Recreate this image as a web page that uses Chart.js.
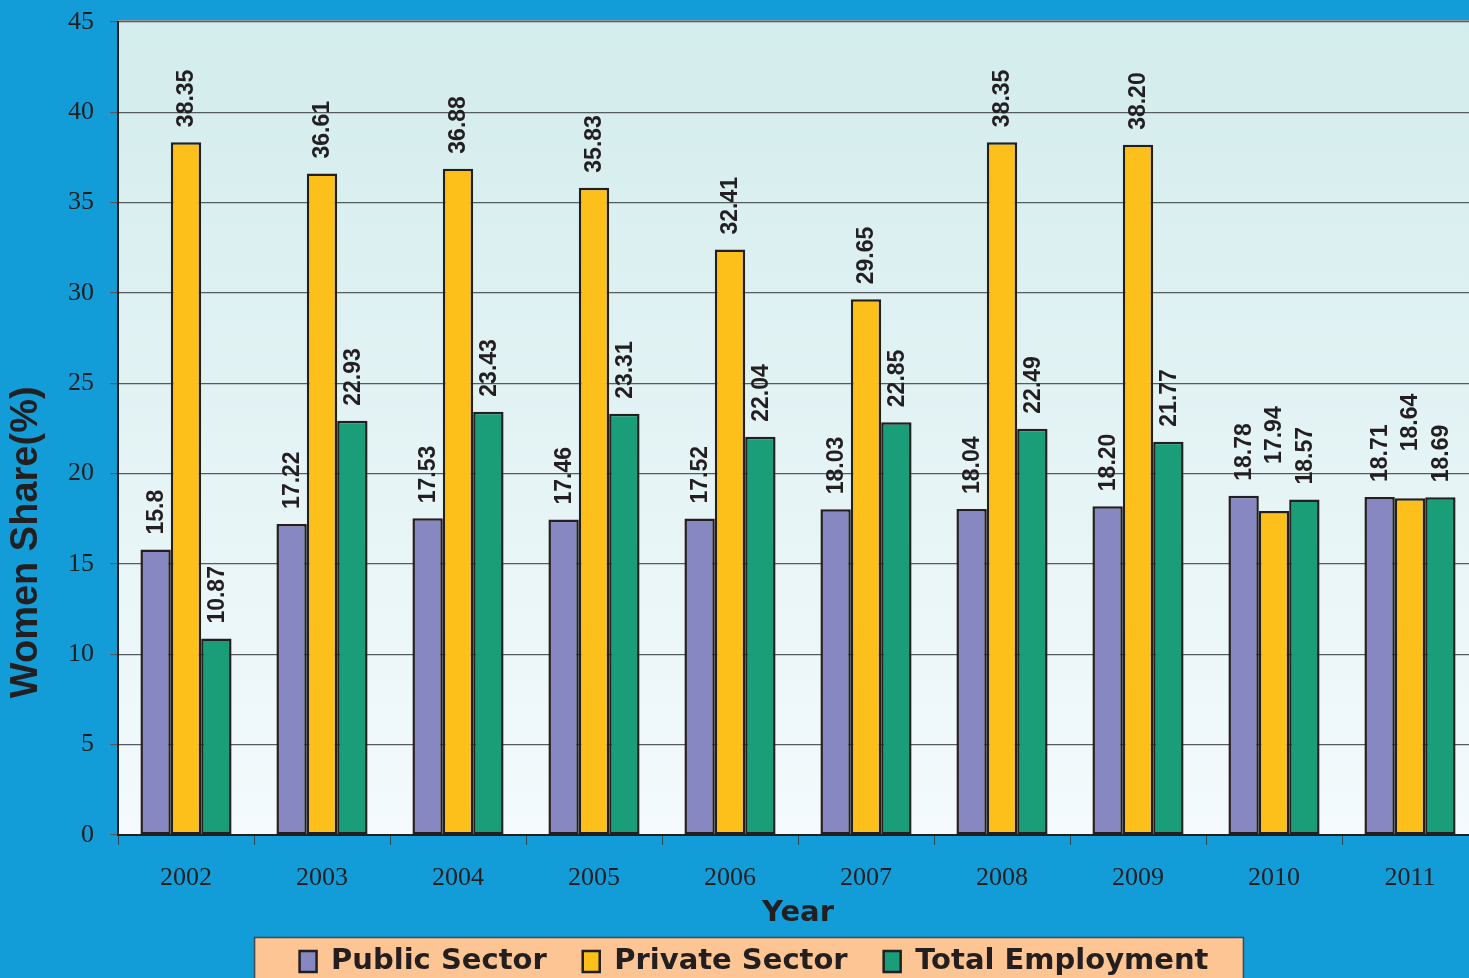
<!DOCTYPE html>
<html>
<head>
<meta charset="utf-8">
<script src="https://cdn.jsdelivr.net/npm/chart.js@4.4.1/dist/chart.umd.min.js"></script>
<style>
  html, body { margin: 0; padding: 0; overflow: hidden; background: #129dd9; }
  #wrap { width: 1478px; height: 978px; }
</style>
</head>
<body>
<div id="wrap"><canvas id="womenChart" width="1478" height="978"></canvas></div>
<script>
const years = ['2002', '2003', '2004', '2005', '2006', '2007', '2008', '2009', '2010', '2011'];
const publicSector = [15.8, 17.22, 17.53, 17.46, 17.52, 18.03, 18.04, 18.20, 18.78, 18.71];
const privateSector = [38.35, 36.61, 36.88, 35.83, 32.41, 29.65, 38.35, 38.20, 17.94, 18.64];
const totalEmployment = [10.87, 22.93, 23.43, 23.31, 22.04, 22.85, 22.49, 21.77, 18.57, 18.69];
// labels as printed in the source (some keep trailing zero, 15.8 does not)
const publicLabels = ['15.8', '17.22', '17.53', '17.46', '17.52', '18.03', '18.04', '18.20', '18.78', '18.71'];
const privateLabels = ['38.35', '36.61', '36.88', '35.83', '32.41', '29.65', '38.35', '38.20', '17.94', '18.64'];
const totalLabels = ['10.87', '22.93', '23.43', '23.31', '22.04', '22.85', '22.49', '21.77', '18.57', '18.69'];
const labelSets = [publicLabels, privateLabels, totalLabels];
const yTitle = 'Women Share(%)';

const ink = '#231f20';

// plot background, legend box, y title
const backdrop = {
    id: 'backdrop',
    afterLayout(chart) {
        // the legend in the original sits a little right of centre
        chart.legend.left += 8;
        chart.legend.right += 8;
    },
    beforeDraw(chart) {
        const { ctx, chartArea: a } = chart;
        ctx.save();
        const g = ctx.createLinearGradient(0, a.top, 0, a.bottom);
        g.addColorStop(0, '#d3ecec');
        g.addColorStop(1, '#f4fafd');
        ctx.fillStyle = g;
        ctx.fillRect(a.left, a.top, a.right - a.left, a.bottom - a.top);
        ctx.fillStyle = '#9a9a9a';
        ctx.fillRect(a.left, a.top - 2, a.right - a.left, 2);

        const boxes = chart.legend.legendHitBoxes;
        if (boxes && boxes.length) {
            const first = boxes[0], last = boxes[boxes.length - 1];
            const midY = first.top + first.height / 2;
            const l = first.left - 45, r = last.left + last.width + 35;
            const t = midY - 24;
            ctx.fillStyle = '#fdc593';
            ctx.fillRect(l, t, r - l, 100);
            ctx.strokeStyle = '#3c4a55';
            ctx.lineWidth = 1.5;
            ctx.strokeRect(l, t, r - l, 100);
        }

        // y title sits lower than the axis middle in the original
        ctx.font = 'bold 38px "Liberation Sans", Arial, sans-serif';
        ctx.fillStyle = ink;
        ctx.textAlign = 'center';
        ctx.textBaseline = 'middle';
        ctx.translate(27, a.top + (a.bottom - a.top) * 0.64);
        ctx.rotate(-Math.PI / 2);
        ctx.fillText(yTitle, 0, 0);
        ctx.restore();
    }
};

// rotated value labels
const valueLabels = {
    id: 'valueLabels',
    afterDatasetsDraw(chart) {
        const { ctx } = chart;
        ctx.save();
        ctx.font = 'bold 23px "Liberation Sans", Arial, sans-serif';
        ctx.fillStyle = ink;
        ctx.textAlign = 'left';
        ctx.textBaseline = 'middle';
        chart.data.datasets.forEach((ds, di) => {
            chart.getDatasetMeta(di).data.forEach((bar, i) => {
                let lift = 15;
                if (di === 1) {
                    const v = ds.data[i];
                    const a = chart.data.datasets[0].data[i];
                    const b = chart.data.datasets[2].data[i];
                    if (Math.abs(v - a) < 1.5 && Math.abs(v - b) < 1.5) lift += 32;
                }
                ctx.save();
                ctx.translate(bar.x, bar.y - lift);
                ctx.rotate(-Math.PI / 2);
                ctx.fillText(labelSets[di][i], 0, 1);
                ctx.restore();
            });
        });
        ctx.restore();
    }
};

const barStyle = { borderColor: ink, borderWidth: 2.5, borderSkipped: false };

new Chart(document.getElementById('womenChart').getContext('2d'), {
    type: 'bar',
    data: {
        labels: years,
        datasets: [
            { label: 'Public Sector', data: publicSector, backgroundColor: '#8787c1', ...barStyle },
            { label: 'Private Sector', data: privateSector, backgroundColor: '#fdbf1a', ...barStyle },
            { label: 'Total Employment', data: totalEmployment, backgroundColor: '#1a9e77', ...barStyle }
        ]
    },
    options: {
        responsive: false,
        animation: false,
        layout: { padding: { top: 22, right: 0, left: 14, bottom: -8 } },
        datasets: { bar: { categoryPercentage: 0.67, barPercentage: 1 } },
        plugins: {
            legend: {
                position: 'bottom',
                labels: {
                    color: ink,
                    font: { family: '"DejaVu Sans", sans-serif', size: 29, weight: 'bold' },
                    boxWidth: 17,
                    boxHeight: 21,
                    padding: 36,
                    useBorderRadius: false
                }
            },
            tooltip: { enabled: false }
        },
        scales: {
            x: {
                afterFit(scale) { scale.height = 76; },
                grid: { offset: true, drawOnChartArea: false, color: '#2d4a5c', tickLength: 10 },
                border: { color: ink, width: 2 },
                ticks: { color: ink, font: { family: '"Liberation Serif", "Times New Roman", serif', size: 26 }, padding: 18 },
                title: {
                    display: true, text: 'Year', color: ink,
                    font: { family: '"DejaVu Sans", sans-serif', size: 29, weight: 'bold', lineHeight: 1 },
                    padding: { top: -17, bottom: -17 }
                }
            },
            y: {
                min: 0, max: 45,
                afterFit(scale) { scale.width = 104; },
                grid: { color: '#555c60', lineWidth: 1.2, tickLength: 8 },
                border: { color: ink, width: 2 },
                ticks: { stepSize: 5, color: ink, font: { family: '"Liberation Serif", "Times New Roman", serif', size: 26, lineHeight: 0.3 }, padding: 16 }
            }
        }
    },
    plugins: [backdrop, valueLabels]
});
</script>
</body>
</html>
